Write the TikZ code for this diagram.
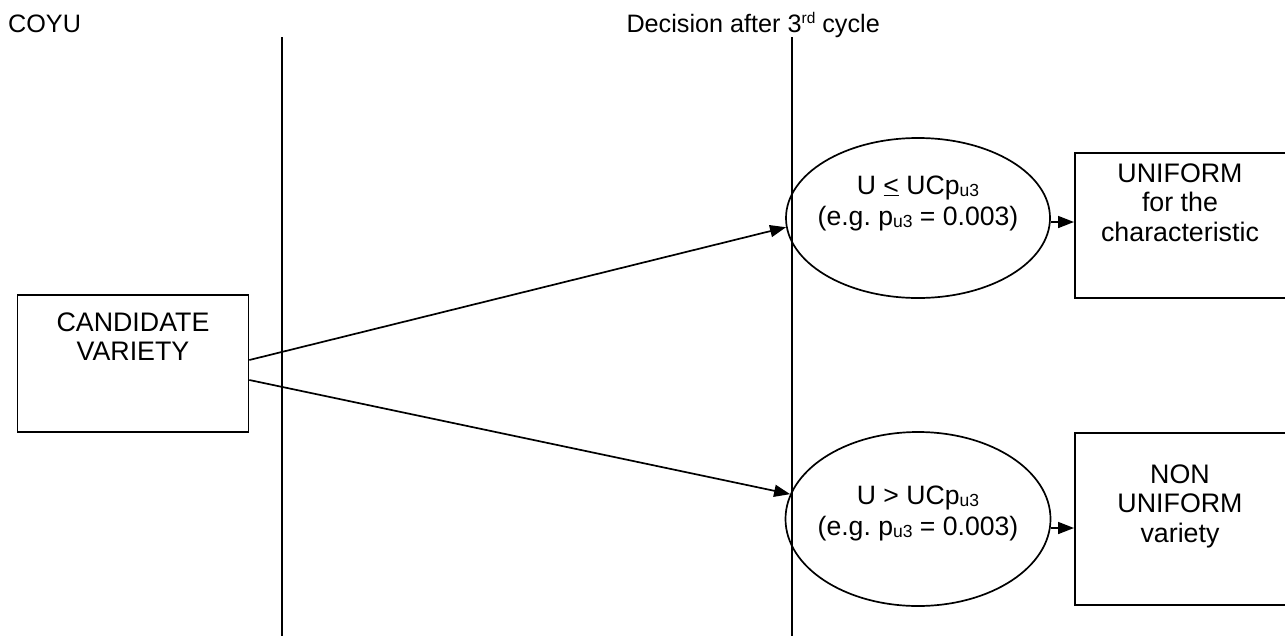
\documentclass[tikz,border=0pt]{standalone}
\usepackage{fontspec}
\setmainfont{Liberation Sans}
\usetikzlibrary{shapes.geometric,arrows.meta}
\newcommand\subtxt[1]{\raisebox{-2.5pt}{\fontsize{17.5}{17.5}\selectfont #1}}
\newcommand\suptxt[1]{\raisebox{9pt}{\fontsize{15.5}{15.5}\selectfont #1}}
\begin{document}
\begin{tikzpicture}[x=1pt,y=-1pt,
  line/.style={line width=1.7pt},
  box/.style={draw,line width=1.7pt,rectangle,inner sep=0pt},
  oval/.style={draw,line width=1.7pt,ellipse,inner sep=0pt},
  txt/.style={align=center,inner sep=0pt,anchor=north,font=\fontsize{26.8}{29.5}\selectfont},
  otxt/.style={align=center,inner sep=0pt,anchor=north,font=\fontsize{26.6}{31}\selectfont},
  head/.style={inner sep=0pt,font=\fontsize{25.2}{28}\selectfont},
  arr/.style={line width=1.7pt,-{Triangle[length=16pt,width=12pt]}}]
\clip (0,0) rectangle (1285,635);
\fill[white] (0,0) rectangle (1285,635);

% headers
\node[head,anchor=base west] (coyu) at (8,32) {COYU};
\node[head,anchor=base east] (dec) at (880,32) {Decision after 3\suptxt{rd} cycle};

% vertical lines
\coordinate (v1t) at (282,37);
\coordinate (v1b) at (282,640);
\coordinate (v2t) at (792,37);
\coordinate (v2b) at (792,640);
\draw[line] (v1t) -- (v1b);
\draw[line] (v2t) -- (v2b);

% candidate box
\node[box,minimum width=231pt,minimum height=137pt] (cand) at (133,363.5) {};
\node[txt] (candt) at (133,312.5) {CANDIDATE\\VARIETY};

% ellipses
\node[oval,minimum width=264pt,minimum height=160pt] (e1) at (918,218) {};
\node[otxt] (e1t) at (918,175.5) {U \underline{<} UCp\subtxt{u3}\\(e.g.\ p\subtxt{u3} = 0.003)};
\node[oval,minimum width=265pt,minimum height=174pt] (e2) at (918,519) {};
\node[otxt] (e2t) at (918,485.5) {U > UCp\subtxt{u3}\\(e.g.\ p\subtxt{u3} = 0.003)};

% result boxes
\node[box,minimum width=230pt,minimum height=145pt,anchor=west] (u1) at (1074,225.5) {};
\node[txt] (u1t) at (1180,163.5) {UNIFORM\\for the\\characteristic};
\node[box,minimum width=230pt,minimum height=172pt,anchor=west] (u2) at (1074,519) {};
\node[txt] (u2t) at (1180,464.5) {NON\\UNIFORM\\variety};

% connectors
\draw[arr] ([yshift=3.5pt]cand.east) -- (e1.184);
\draw[arr] ([yshift=-16.5pt]cand.east) -- (e2.169);
\draw[arr] ([yshift=-4pt]e1.east) -- ([yshift=-4pt]e1.east -| u1.west);
\draw[arr] ([yshift=-9pt]e2.east) -- ([yshift=-9pt]e2.east -| u2.west);
\end{tikzpicture}
\end{document}
